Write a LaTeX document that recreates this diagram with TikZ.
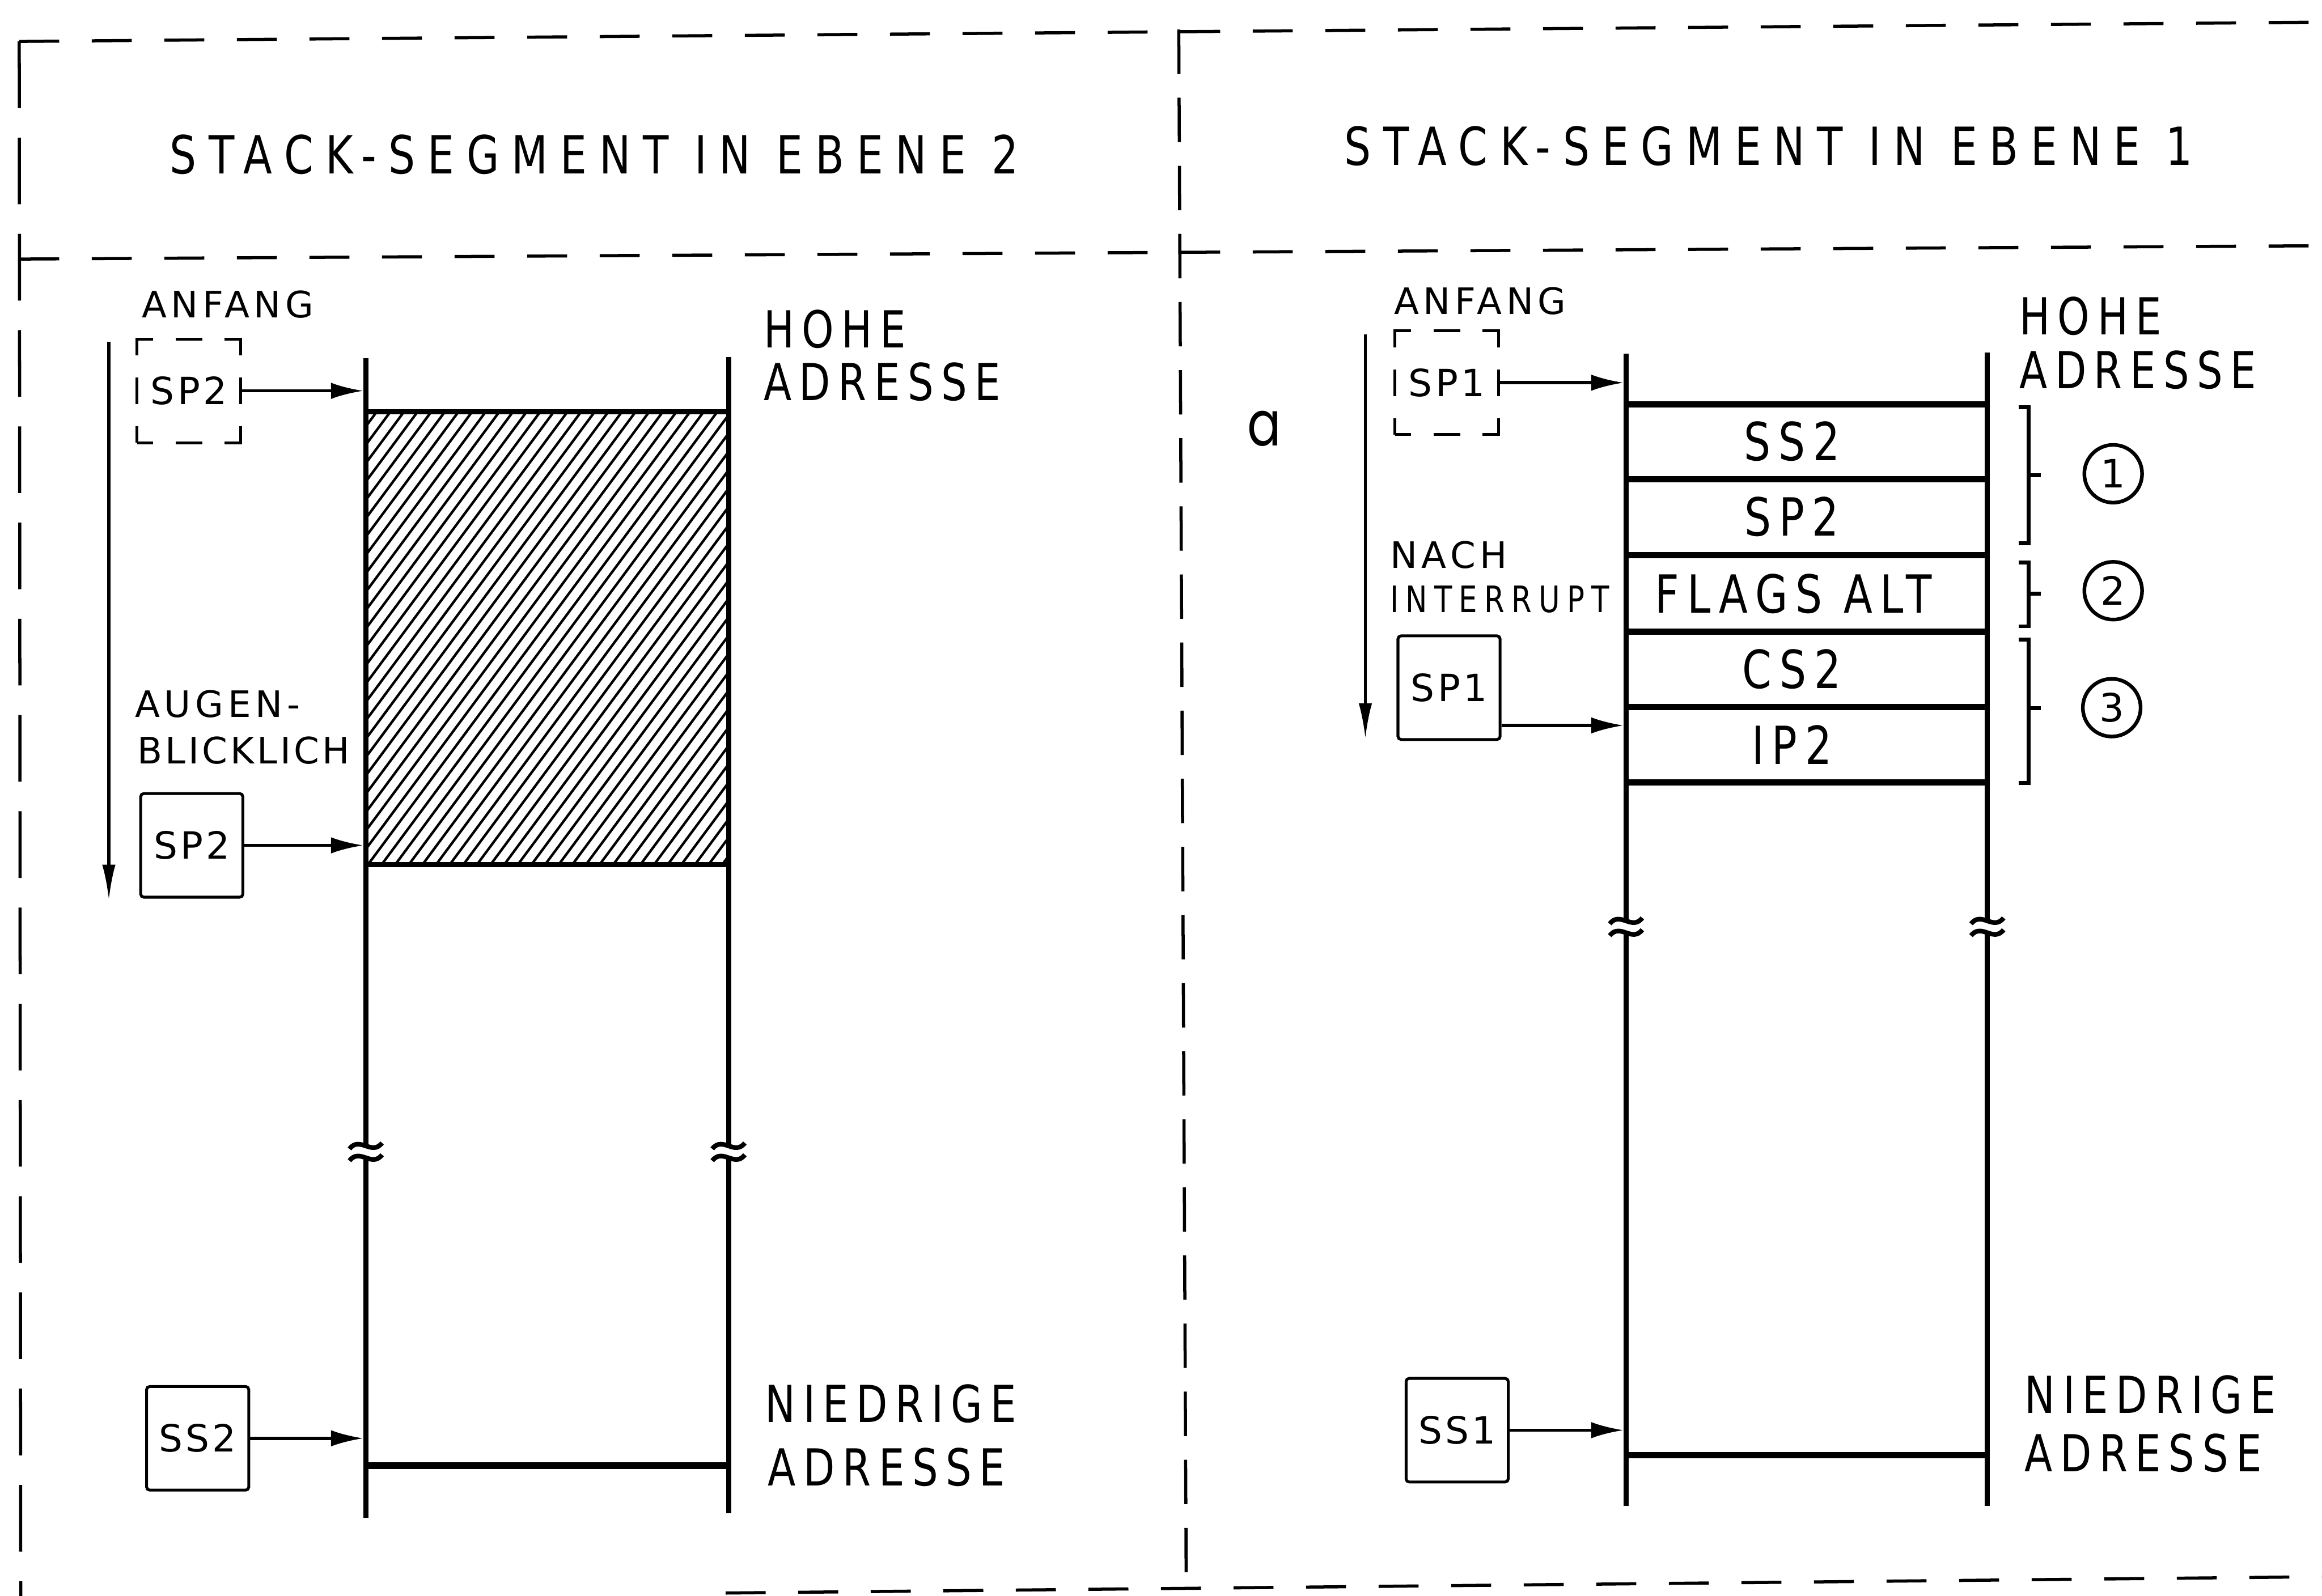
\documentclass[tikz,border=0pt]{standalone}
\usepackage{fontspec}
\usetikzlibrary{arrows.meta}
\newfontfamily\din{DejaVu Sans}[FakeStretch=0.8,LetterSpace=15]
\newfontfamily\dinH{DejaVu Sans}[FakeStretch=0.8,LetterSpace=23.5]
\newfontfamily\dinS{DejaVu Sans}[LetterSpace=12]
\newfontfamily\dinB{DejaVu Sans}[LetterSpace=8]
\newfontfamily\dinI{DejaVu Sans}[FakeStretch=0.8,LetterSpace=19]
\newfontfamily\dinround{Poppins}[FakeStretch=0.8]
\newcommand\fs[1]{\fontsize{#1}{#1}\selectfont}
\tikzset{
 hframe/.style={line width=0.6pt, dash pattern=on 2.7mm off 2.2mm},
 vframe/.style={line width=0.6pt, dash pattern=on 3mm off 1.6mm},
 lframe/.style={line width=0.6pt, dash pattern=on 4.5mm off 2mm},
 stk/.style={line width=1pt},
 cellline/.style={line width=1.2pt},
 ptr/.style={line width=0.6pt, -{Latex[length=2.2mm,width=1.1mm]}},
 dirarrow/.style={line width=0.55pt, -{Latex[length=2.4mm,width=0.9mm]}},
 hatch/.style={line width=0.48pt},
 brk/.style={line width=0.9pt},
 reg/.style={draw, line width=0.55pt, minimum width=6.9mm, minimum height=7mm, inner sep=0pt, rounded corners=0.6pt, font=\dinB\fs{7.2}},
 dreg/.style={reg, minimum width=7mm, sharp corners, dash pattern=on 2.2mm off 1.5mm on 1.8mm off 1.5mm, dash phase=1.1mm},
 lab/.style={anchor=west, inner sep=0pt, font=\din\fs{9.8}},
 small/.style={anchor=west, inner sep=0pt, font=\dinS\fs{7}},
 head/.style={anchor=west, inner sep=0pt, font=\dinH\fs{10.1}},
 celltxt/.style={inner sep=0pt, font=\din\fs{10.1}},
 circ/.style={draw, circle, line width=0.7pt, minimum size=3.9mm, inner sep=0pt, font=\dinS\fs{7.5}},
 brace/.style={line width=0.75pt},
}
\newcommand\tld[2]{\draw[brk] ({#1-11},{#2+2}) .. controls ({#1-4},{#2-7}) and ({#1+4},{#2+7}) .. ({#1+11},{#2-2});}
\begin{document}
\begin{tikzpicture}[x=0.1mm,y=-0.1mm]
\useasboundingbox (0,0) rectangle (1568,1077.7);
% frame
\draw[lframe] (13,28) -- (14,1078);
\draw[hframe] (13,28) -- (1568,15);
\draw[hframe] (13,175) -- (1568,166);
\draw[vframe] (796,20) -- (801,1066);
\draw[hframe] (490,1076) -- (1568,1065);
% headers
\node[head] (h2) at (114,104.5) {STACK-SEGMENT IN EBENE 2};
\node[head] (h1) at (907,98.5) {STACK-SEGMENT IN EBENE 1};
% ---------- left panel ----------
\begin{scope}
\clip (247,278) rectangle (492,584);
\foreach \i in {0,...,52} {\draw[hatch] ({17+\i*9.2},586) -- ++(232,-313);}
\end{scope}
\draw[stk] (247,242) -- (247,774);
\draw[stk] (247,782) -- (247,1025);
\draw[stk] (492,241) -- (492,774);
\draw[stk] (492,782) -- (492,1022);
\tld{247}{774}\tld{247}{782}\tld{492}{774}\tld{492}{782}
\draw[stk] (247,278) -- (492,278);
\draw[stk] (247,584) -- (492,584);
\draw[line width=1.3pt] (247,990) -- (492,990);
\node[small] (anf2) at (95,205.5) {ANFANG};
\node[dreg] (dSP2) at (127.5,264) {SP2};
\node[small] (aug) at (90.5,475.5) {AUGEN-};
\node[small, font=\dinB\fs{7}] (blick) at (92,507) {BLICKLICH};
\node[reg] (SP2c) at (129.5,571) {SP2};
\node[reg] (SS2r) at (133.5,971.5) {SS2};
\node[lab] (hohe2) at (515,222.5) {HOHE};
\node[lab] (adr2a) at (515,258) {ADRESSE};
\node[lab] (nied2) at (516,948) {NIEDRIGE};
\node[lab] (adr2b) at (518,991) {ADRESSE};
\coordinate (L2) at (245.5,0);
\draw[ptr] (dSP2.east) -- (dSP2.east -| L2);
\draw[ptr] (SP2c.east) -- (SP2c.east -| L2);
\draw[ptr] (SS2r.east) -- (SS2r.east -| L2);
\coordinate (d2a) at (73.5,231);
\coordinate (d2b) at (73.5,608);
\draw[dirarrow] (d2a) -- (d2b);
% ---------- right panel ----------
\draw[stk] (1098,239) -- (1098,622);
\draw[stk] (1098,630) -- (1098,1017);
\draw[stk] (1342,238) -- (1342,622);
\draw[stk] (1342,630) -- (1342,1017);
\tld{1098}{622}\tld{1098}{630}\tld{1342}{622}\tld{1342}{630}
\foreach \yy in {273,323.5,375,426.5,477.5,528.5} {\draw[cellline] (1098,\yy) -- (1342,\yy);}
\draw[line width=1.2pt] (1098,983) -- (1342,983);
\node[celltxt] (cSS2) at (1210,298) {SS2};
\node[celltxt] (cSP2) at (1210,349) {SP2};
\node[celltxt] (cFL) at (1211,401) {FLAGS ALT};
\node[celltxt] (cCS2) at (1210,452) {CS2};
\node[celltxt] (cIP2) at (1210,503) {IP2};
\node[small] (anf1) at (940.7,203.5) {ANFANG};
\node[dreg] (dSP1) at (977,258.5) {SP1};
\node[small] (nach) at (938,375) {NACH};
\node[small, font=\dinI\fs{7}] (intr) at (938,405) {INTERRUPT};
\node[reg] (SP1c) at (978.5,464.5) {SP1};
\node[reg] (SS1r) at (984,966) {SS1};
\node[lab] (hohe1) at (1363,213.6) {HOHE};
\node[lab] (adr1a) at (1363,250) {ADRESSE};
\node[lab] (nied1) at (1366.6,942) {NIEDRIGE};
\node[lab] (adr1b) at (1366.6,981.6) {ADRESSE};
\node[font=\dinround\fs{12}, inner sep=0pt] (alab) at (853.6,289.5) {a};
\coordinate (L1) at (1096.5,0);
\coordinate (pSP1) at (1096.5,490);
\draw[ptr] (dSP1.east) -- (dSP1.east -| L1);
\draw[ptr] (SP1c.east |- pSP1) -- (pSP1);
\draw[ptr] (SS1r.east) -- (SS1r.east -| L1);
\coordinate (d1a) at (922,226);
\coordinate (d1b) at (922,499);
\draw[dirarrow] (d1a) -- (d1b);
% brackets and numbers
\draw[brace] (1363,275) -- (1370,275) -- (1370,367) -- (1363,367);
\draw[brace] (1370,321) -- (1378,321);
\draw[brace] (1363,380) -- (1370,380) -- (1370,423) -- (1363,423);
\draw[brace] (1370,401) -- (1378,401);
\draw[brace] (1363,432) -- (1370,432) -- (1370,529) -- (1363,529);
\draw[brace] (1370,478.5) -- (1378,478.5);
\node[circ] (n1) at (1427,320) {1};
\node[circ] (n2) at (1427,399) {2};
\node[circ] (n3) at (1426,478) {3};
\end{tikzpicture}
\end{document}
